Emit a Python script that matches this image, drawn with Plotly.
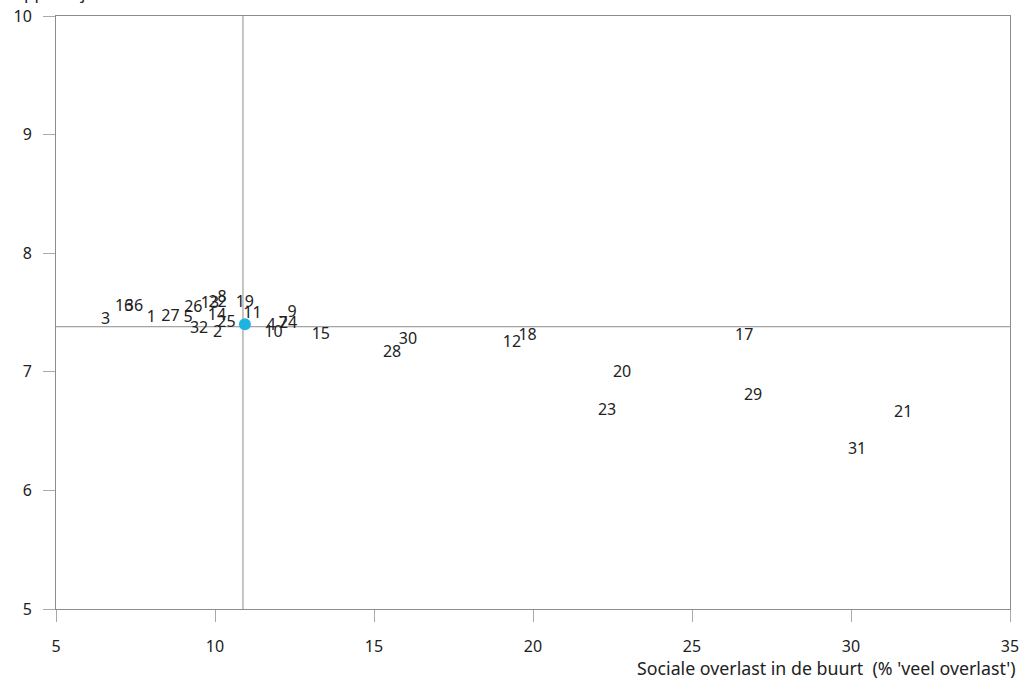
import plotly.graph_objects as go

labels = ["3", "16", "36", "1", "27", "5", "26", "32", "13", "22", "8", "14", "2", "25",
          "19", "11", "4", "10", "7", "24", "9", "15", "28", "30", "12", "18", "17",
          "20", "29", "23", "21", "31"]
overlast = [6.56, 7.14, 7.45, 8.00, 8.60, 9.15, 9.32, 9.50, 9.84, 10.08, 10.22, 10.06, 10.08, 10.36,
            10.94, 11.18, 11.76, 11.84, 12.14, 12.30, 12.42, 13.33, 15.57, 16.07, 19.34, 19.83, 26.64,
            22.80, 26.92, 22.33, 31.64, 30.19]
rapportcijfer = [7.44, 7.55, 7.55, 7.45, 7.46, 7.45, 7.54, 7.36, 7.57, 7.58, 7.62, 7.47, 7.33, 7.41,
                 7.58, 7.49, 7.39, 7.33, 7.40, 7.40, 7.50, 7.31, 7.16, 7.27, 7.24, 7.30, 7.30,
                 6.99, 6.80, 6.67, 6.65, 6.34]

gem_x = 10.94
gem_y = 7.40
ref_x = 10.88
ref_y = 7.38

x_ticks = [5, 10, 15, 20, 25, 30, 35]
y_ticks = [5, 6, 7, 8, 9, 10]
x_title = "Sociale overlast in de buurt  (% 'veel overlast')"
y_title = "Rapportcijfer buurt"

FONT = "Noto Sans"

fig = go.Figure()
fig.add_trace(go.Scatter(
    x=overlast, y=rapportcijfer, mode="text", text=labels,
    textposition="middle center",
    textfont=dict(family=FONT, size=16, color="#222222"),
    hoverinfo="skip", showlegend=False, cliponaxis=False))
fig.add_trace(go.Scatter(
    x=[gem_x], y=[gem_y], mode="markers",
    marker=dict(size=12, color="#1db4e2"),
    showlegend=False))

fig.add_shape(type="line", xref="x", yref="paper", x0=ref_x, x1=ref_x, y0=0, y1=1,
              line=dict(color="#8c8c8c", width=1), layer="below")
fig.add_shape(type="line", xref="paper", yref="y", x0=0, x1=1, y0=ref_y, y1=ref_y,
              line=dict(color="#8c8c8c", width=1), layer="below")

fig.add_annotation(text=x_title, xref="paper", yref="paper", x=1.008, y=-0.1,
                   xanchor="right", yanchor="middle", showarrow=False,
                   font=dict(family=FONT, size=17.8, color="#222222"))
fig.add_annotation(text=y_title, xref="paper", yref="paper", x=-54/954, y=1 + 10/593,
                   xanchor="left", yanchor="bottom", showarrow=False,
                   font=dict(family=FONT, size=17, color="#222222"))

axis_common = dict(showgrid=False, zeroline=False, showline=True, mirror=True,
                   linecolor="#8c8c8c", linewidth=1, ticks="outside", ticklen=12,
                   tickcolor="#aaaaaa", tickwidth=1, automargin=False,
                   tickfont=dict(family=FONT, size=16, color="#222222"))

fig.update_xaxes(range=[5, 35], tickvals=x_ticks, ticklabelstandoff=11, **axis_common)
fig.update_yaxes(range=[5, 10], tickvals=y_ticks, ticklabelstandoff=8, **axis_common)

fig.update_layout(width=1028, height=682, margin=dict(l=56, r=18, t=16, b=73),
                  plot_bgcolor="white", paper_bgcolor="white",
                  font=dict(family=FONT))

fig.write_html("out.html", config={"displayModeBar": False},
               post_script="document.body.style.margin='0';")
